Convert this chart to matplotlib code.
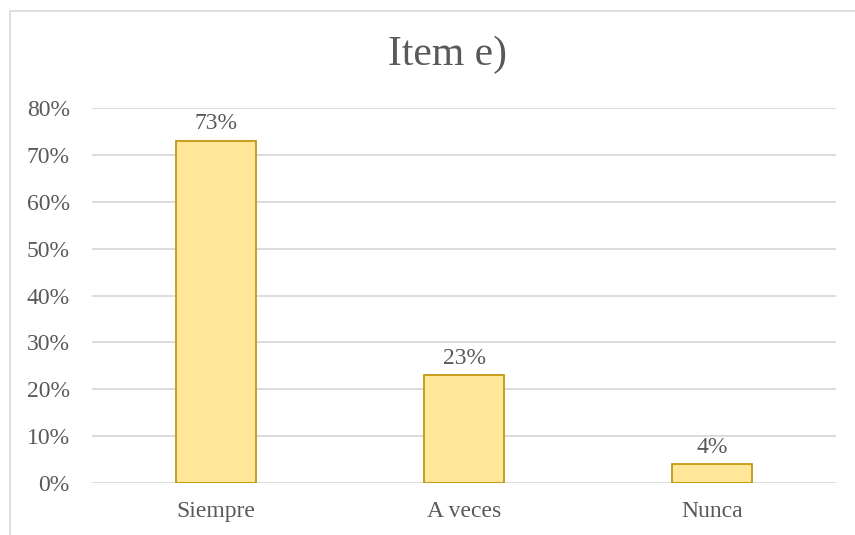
import matplotlib.pyplot as plt
from matplotlib.patches import Rectangle

categories = ['Siempre', 'A veces', 'Nunca']
values = [0.73, 0.23, 0.04]
yticks = [0, 0.1, 0.2, 0.3, 0.4, 0.5, 0.6, 0.7, 0.8]

plt.rcParams['font.family'] = ['Liberation Serif', 'DejaVu Serif']
grey = '#595959'

fig = plt.figure(figsize=(8.55, 5.35), dpi=100)
fig.patches.append(Rectangle((10 / 855, -0.1), 1.2, 1.1 - 11 / 535,
                             transform=fig.transFigure, fill=False,
                             edgecolor='#d9d9d9', linewidth=1.2))

ax = fig.add_axes([92 / 855, 1 - 483 / 535, 744 / 855, 375 / 535])
x = range(len(categories))
bars = ax.bar(x, values, width=0.32, color='#ffe699', edgecolor='#bf9000',
              linewidth=1.2, zorder=3)
for b, v in zip(bars, values):
    ax.text(b.get_x() + b.get_width() / 2, v + 0.014, f'{v:.0%}',
            ha='center', va='bottom', fontsize=17, color=grey)

ax.set_xlim(-0.5, 2.5)
ax.set_ylim(0, 0.8)
ax.set_yticks(yticks)
ax.set_yticklabels([f'{t:.0%}' for t in yticks])
ax.set_xticks(list(x))
ax.set_xticklabels(categories)
ax.tick_params(length=0, labelsize=17, colors=grey)
ax.tick_params(axis='y', pad=16)
ax.tick_params(axis='x', pad=13)
ax.grid(axis='y', color='#d9d9d9', linewidth=1.3, zorder=0)
for s in ax.spines.values():
    s.set_visible(False)

fig.text(447 / 855, 1 - 55 / 535, 'Item e)', ha='center', va='center',
         fontsize=30, color=grey)

fig.savefig('out.png', dpi=100)
